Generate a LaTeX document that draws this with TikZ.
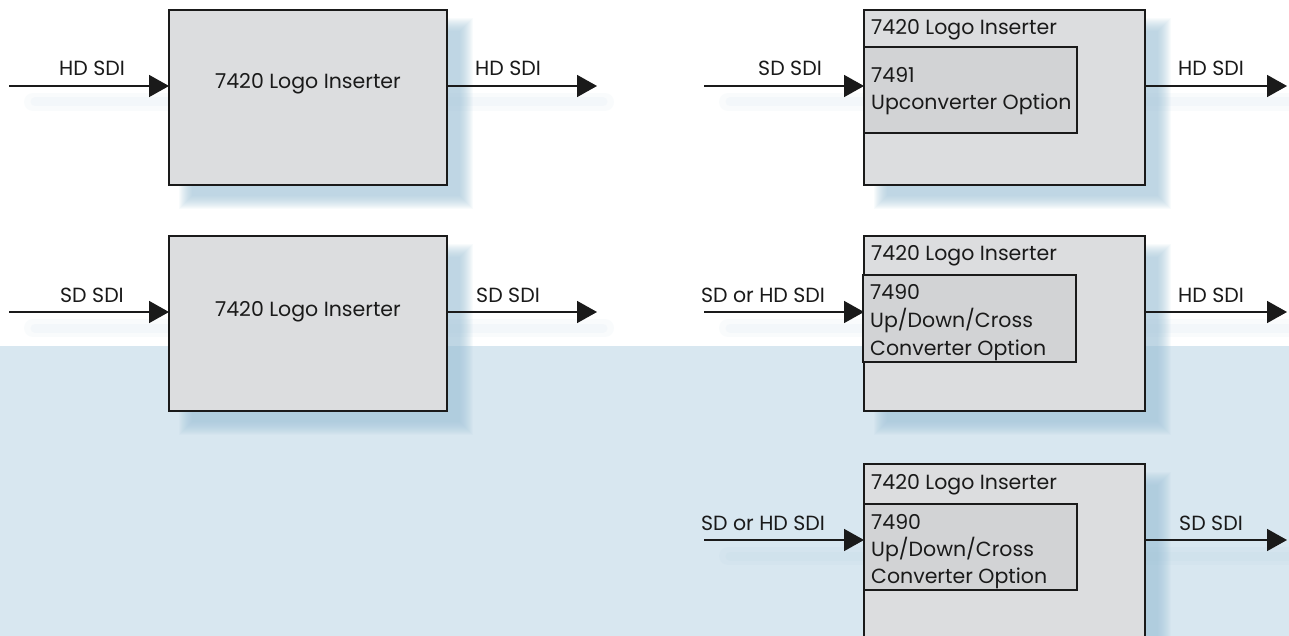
\documentclass[tikz,border=0pt]{standalone}
\usepackage{fontspec}
\setmainfont{Poppins}
\usetikzlibrary{arrows.meta,calc}
\definecolor{band}{HTML}{D8E7F0}
\definecolor{shadowblue}{HTML}{9EC3DA}
\definecolor{boxfill}{HTML}{DCDDDF}
\definecolor{innerfill}{HTML}{D2D3D5}
\definecolor{ink}{HTML}{1A1A1A}
\begin{document}
\begin{tikzpicture}[x=1pt,y=-1pt,
  leftbox/.style={draw=ink,line width=2pt,fill=boxfill,minimum width=278pt,minimum height=175pt,anchor=north west,inner sep=0pt,outer sep=0pt},
  rightbox/.style={leftbox,minimum width=281pt},
  innerbox/.style={draw=ink,line width=2.2pt,fill=innerfill,minimum width=213pt,anchor=north west,inner sep=0pt,outer sep=0pt},
  txt/.style={font=\fontsize{20.5}{28}\selectfont,text=ink,inner sep=0pt},
  sig/.style={draw=ink,line width=1.6pt,-{Triangle[length=20pt,width=22pt]}},
]
\useasboundingbox (0,0) rectangle (1289,636);
\clip (0,0) rectangle (1289,636);
\fill[white] (0,0) rectangle (1289,636);
\fill[band] (0,346) rectangle (1289,636);

% soft shadows of the boxes
\foreach \xa/\ya/\xb/\yb in {168/9/448/186, 168/235/448/412, 863/9/1146/186, 863/235/1146/412, 863/463/1146/640}{
  \foreach \i in {0,...,13}{
    \fill[shadowblue,opacity=0.065] ({\xa+18-7+\i},{\ya+16-7+\i}) rectangle ({\xb+18+7-\i},{\yb+16+7-\i});
  }
}
% soft shadows of the connectors
\foreach \xa/\xb/\yy in {9/597/86, 9/597/312, 704/1287/86, 704/1287/312, 704/1287/540}{
  \draw[shadowblue,opacity=0.06,line width=18pt,line cap=round] ({\xa+24},{\yy+16}) -- ({\xb+8},{\yy+16});
  \draw[shadowblue,opacity=0.06,line width=9pt,line cap=round] ({\xa+26},{\yy+16}) -- ({\xb+6},{\yy+16});
}

% ---- left column
\node[leftbox] (b1) at (169,10) {};
\node[txt,anchor=base] (t1) at (308,89) {7420 Logo Inserter};
\coordinate (i1) at (9,86);
\coordinate (o1) at (597,86);
\draw[sig] (i1) -- (i1 -| b1.west);
\draw[sig] (o1 -| b1.east) -- (o1);
\node[txt,anchor=base] (l1a) at (92,76) {HD SDI};
\node[txt,anchor=base] (l1b) at (508,76) {HD SDI};

\node[leftbox] (b2) at (169,236) {};
\node[txt,anchor=base] (t2) at (308,316) {7420 Logo Inserter};
\coordinate (i2) at (9,312);
\coordinate (o2) at (597,312);
\draw[sig] (i2) -- (i2 -| b2.west);
\draw[sig] (o2 -| b2.east) -- (o2);
\node[txt,anchor=base] (l2a) at (92,302) {SD SDI};
\node[txt,anchor=base] (l2b) at (508,302) {SD SDI};

% ---- right column
\node[rightbox] (b3) at (864,10) {};
\node[txt,anchor=base west] (t3) at (871,35) {7420 Logo Inserter};
\node[innerbox,minimum height=86pt] (n3) at (864,47) {};
\node[txt,anchor=base west] (t3a) at (871,83) {7491};
\node[txt,anchor=base west] (t3b) at (871,110) {Upconverter Option};
\coordinate (i3) at (704,86);
\coordinate (o3) at (1287,86);
\draw[sig] (i3) -- (i3 -| b3.west);
\draw[sig] (o3 -| b3.east) -- (o3);
\node[txt,anchor=base] (l3a) at (790,76) {SD SDI};
\node[txt,anchor=base] (l3b) at (1211,76) {HD SDI};

\node[rightbox] (b4) at (864,236) {};
\node[txt,anchor=base west] (t4) at (871,261) {7420 Logo Inserter};
\node[innerbox,minimum height=87pt] (n4) at (863,275) {};
\node[txt,anchor=base west] (t4a) at (870,299) {7490};
\node[txt,anchor=base west] (t4b) at (870,327) {Up/Down/Cross};
\node[txt,anchor=base west] (t4c) at (870,355) {Converter Option};
\coordinate (i4) at (704,312);
\coordinate (o4) at (1287,312);
\draw[sig] (i4) -- (i4 -| b4.west);
\draw[sig] (o4 -| b4.east) -- (o4);
\node[txt,anchor=base] (l4a) at (763,302) {SD or HD SDI};
\node[txt,anchor=base] (l4b) at (1211,302) {HD SDI};

\node[rightbox] (b5) at (864,464) {};
\node[txt,anchor=base west] (t5) at (871,489) {7420 Logo Inserter};
\node[innerbox,minimum height=86pt] (n5) at (864,504) {};
\node[txt,anchor=base west] (t5a) at (871,529) {7490};
\node[txt,anchor=base west] (t5b) at (871,556) {Up/Down/Cross};
\node[txt,anchor=base west] (t5c) at (871,583) {Converter Option};
\coordinate (i5) at (704,540);
\coordinate (o5) at (1287,540);
\draw[sig] (i5) -- (i5 -| b5.west);
\draw[sig] (o5 -| b5.east) -- (o5);
\node[txt,anchor=base] (l5a) at (763,530) {SD or HD SDI};
\node[txt,anchor=base] (l5b) at (1211,530) {SD SDI};
\end{tikzpicture}
\end{document}
